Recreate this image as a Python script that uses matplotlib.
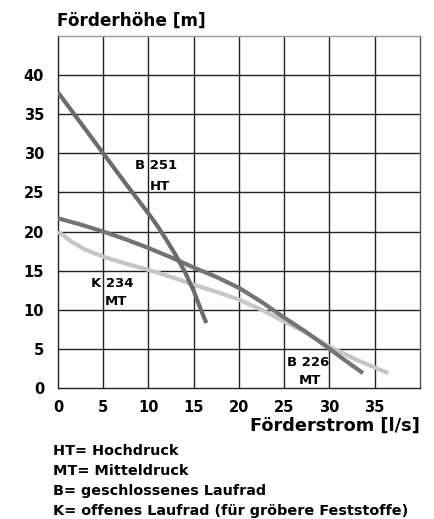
import matplotlib.pyplot as plt

plt.rcParams['font.family'] = ['DejaVu Sans']
plt.rcParams['font.weight'] = 'bold'

# Kennlinien (Förderstrom l/s, Förderhöhe m)
b251_q = [0, 2.5, 5, 7.5, 10, 11, 12, 13, 14, 15, 16, 16.4]
b251_h = [37.8, 33.9, 30.0, 26.1, 22.3, 20.7, 18.9, 17.0, 14.9, 12.4, 9.4, 8.3]

b226_q = [0, 2.5, 5, 7.5, 10, 12.5, 15, 17.5, 20, 22.5, 25, 27.5, 30, 32, 33.7]
b226_h = [21.7, 20.9, 20.0, 19.0, 17.9, 16.7, 15.4, 14.2, 12.8, 11.0, 9.0, 7.1, 5.0, 3.3, 1.9]

k234_q = [0, 1.5, 3, 5, 7.5, 10, 12.5, 15, 17.5, 20, 22.5, 25, 27.5, 30, 33, 36.5]
k234_h = [20.0, 18.7, 17.7, 16.8, 15.9, 15.1, 14.2, 13.2, 12.3, 11.3, 10.0, 8.5, 7.0, 5.3, 3.6, 1.9]

x_ticks = [0, 5, 10, 15, 20, 25, 30, 35]
y_ticks = [0, 5, 10, 15, 20, 25, 30, 35, 40]

legende = ['HT= Hochdruck', 'MT= Mitteldruck', 'B= geschlossenes Laufrad',
           'K= offenes Laufrad (für gröbere Feststoffe)']

fig = plt.figure(figsize=(4.35, 5.19), dpi=100)
ax = fig.add_axes([0.1333, 0.2524, 0.8322, 0.6782])

# Gitter
for x in range(5, 40, 5):
    ax.axvline(x, color='#222222', lw=1.0, zorder=1)
for y in range(5, 45, 5):
    ax.axhline(y, color='#222222', lw=1.0, zorder=1)

ax.plot(k234_q, k234_h, color='#c6c6c6', lw=3, solid_capstyle='butt', zorder=3)
ax.plot(b226_q, b226_h, color='#737373', lw=3, solid_capstyle='butt', zorder=4)
ax.plot(b251_q, b251_h, color='#6c6c6c', lw=3, solid_capstyle='butt', zorder=5)

ax.set_xlim(0, 40)
ax.set_ylim(0, 45)
ax.set_xticks(x_ticks)
ax.set_yticks(y_ticks)
ax.tick_params(length=0, labelsize=10.5, pad=10)
ax.tick_params(axis='x', pad=8.5)
for s in ax.spines.values():
    s.set_color('#222222')
    s.set_linewidth(1.0)
ax.spines['top'].set_color('#999999')
ax.spines['right'].set_color('#555555')

# Beschriftung der Kurven
ax.text(8.5, 28.5, 'B 251', fontsize=9.5, va='center', zorder=6)
ax.text(10.1, 25.8, 'HT', fontsize=9.5, va='center', zorder=6)
ax.text(3.7, 13.4, 'K 234', fontsize=9.5, va='center', zorder=6)
ax.text(5.2, 11.0, 'MT', fontsize=9.5, va='center', zorder=6)
ax.text(25.3, 3.3, 'B 226', fontsize=9.5, va='center', zorder=6)
ax.text(26.6, 1.0, 'MT', fontsize=9.5, va='center', zorder=6)

fig.text(57 / 435, 1 - 26 / 519, 'Förderhöhe [m]', fontsize=12.2, va='baseline', ha='left')
fig.text(420 / 435, 1 - 431 / 519, 'Förderstrom [l/s]', fontsize=12.8, va='baseline', ha='right')

for i, t in enumerate(legende):
    fig.text(53 / 435, 1 - (455 + i * 20) / 519, t, fontsize=10.4, va='baseline', ha='left')

fig.savefig('out.png', dpi=100)
